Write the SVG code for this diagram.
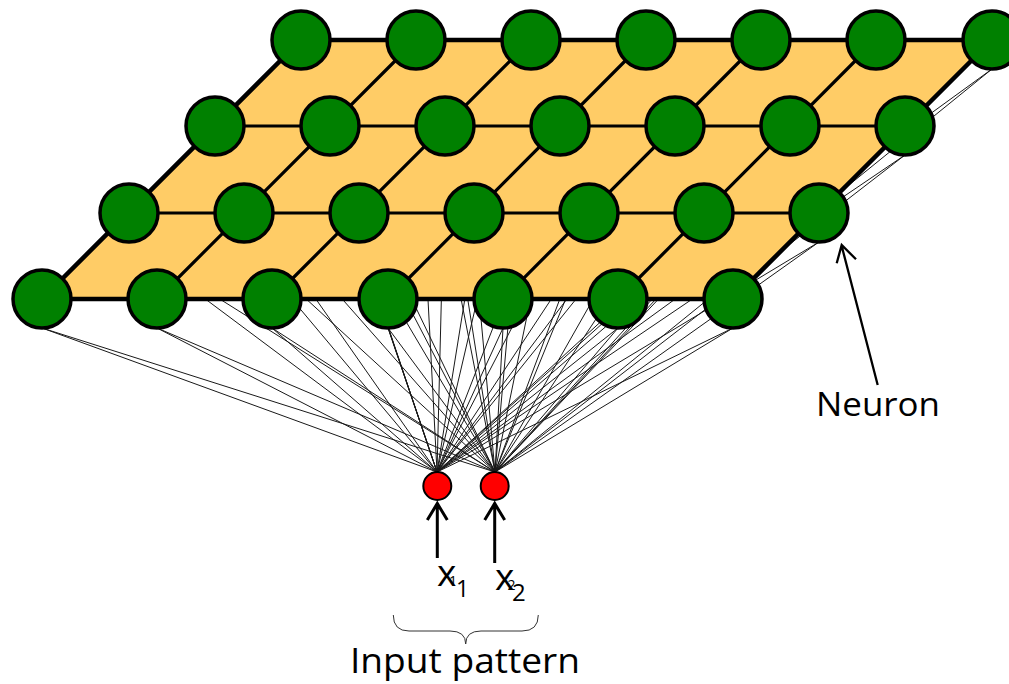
<svg xmlns="http://www.w3.org/2000/svg" width="1009" height="684" viewBox="0 0 1009 684">
<style>
.neuron{fill:#008000;stroke:#000;stroke-width:3.5}
.input{fill:#ff0000;stroke:#000;stroke-width:2}
.grid{stroke:#000;stroke-width:3.2;fill:none}
.arrow{stroke:#000;fill:none;stroke-linecap:butt}
.lbl{font-family:"Open Sans","Noto Sans","DejaVu Sans",sans-serif;fill:#000}
</style>
<rect width="1009" height="684" fill="#fff"/>
<g id="connectors" stroke="#000" stroke-width="1" fill="none" opacity="0.9">
<path d="M42 328L437 472M42 328L495 472M157 328L437 472M157 328L495 472M272 328L437 472M272 328L495 472M388 328L437 472M388 328L495 472M503 328L437 472M503 328L495 472M618 328L437 472M618 328L495 472M733 328L437 472M733 328L495 472"/>
<path d="M129 242L437 472M129 242L495 472M244 242L437 472M244 242L495 472M359 242L437 472M359 242L495 472M474 242L437 472M474 242L495 472M589 242L437 472M589 242L495 472M704 242L437 472M704 242L495 472M819 242L437 472M819 242L495 472"/>
<path d="M215 155L437 472M215 155L495 472M330 155L437 472M330 155L495 472M445 155L437 472M445 155L495 472M560 155L437 472M560 155L495 472M675 155L437 472M675 155L495 472M790 155L437 472M790 155L495 472M905 155L437 472M905 155L495 472"/>
<path d="M301 69L437 472M301 69L495 472M416 69L437 472M416 69L495 472M531 69L437 472M531 69L495 472M646 69L437 472M646 69L495 472M761 69L437 472M761 69L495 472M876 69L437 472M876 69L495 472M992 69L437 472M992 69L495 472"/>
</g>
<g id="map-plane">
<polygon points="42,299 733,299 992,40 301,40" fill="#ffcc66" stroke="#000" stroke-width="4.5" stroke-linejoin="round"/>
<path class="grid" d="M129 213L819 213M215 126L905 126M157 299L416 40M272 299L531 40M388 299L646 40M503 299L761 40M618 299L876 40"/>
</g>
<g id="neurons">
<g id="n-r3c0"><circle class="neuron" cx="42" cy="299" r="29"/></g>
<g id="n-r3c1"><circle class="neuron" cx="157" cy="299" r="29"/></g>
<g id="n-r3c2"><circle class="neuron" cx="272" cy="299" r="29"/></g>
<g id="n-r3c3"><circle class="neuron" cx="388" cy="299" r="29"/></g>
<g id="n-r3c4"><circle class="neuron" cx="503" cy="299" r="29"/></g>
<g id="n-r3c5"><circle class="neuron" cx="618" cy="299" r="29"/></g>
<g id="n-r3c6"><circle class="neuron" cx="733" cy="299" r="29"/></g>
<g id="n-r2c0"><circle class="neuron" cx="129" cy="213" r="29"/></g>
<g id="n-r2c1"><circle class="neuron" cx="244" cy="213" r="29"/></g>
<g id="n-r2c2"><circle class="neuron" cx="359" cy="213" r="29"/></g>
<g id="n-r2c3"><circle class="neuron" cx="474" cy="213" r="29"/></g>
<g id="n-r2c4"><circle class="neuron" cx="589" cy="213" r="29"/></g>
<g id="n-r2c5"><circle class="neuron" cx="704" cy="213" r="29"/></g>
<g id="n-r2c6"><circle class="neuron" cx="819" cy="213" r="29"/></g>
<g id="n-r1c0"><circle class="neuron" cx="215" cy="126" r="29"/></g>
<g id="n-r1c1"><circle class="neuron" cx="330" cy="126" r="29"/></g>
<g id="n-r1c2"><circle class="neuron" cx="445" cy="126" r="29"/></g>
<g id="n-r1c3"><circle class="neuron" cx="560" cy="126" r="29"/></g>
<g id="n-r1c4"><circle class="neuron" cx="675" cy="126" r="29"/></g>
<g id="n-r1c5"><circle class="neuron" cx="790" cy="126" r="29"/></g>
<g id="n-r1c6"><circle class="neuron" cx="905" cy="126" r="29"/></g>
<g id="n-r0c0"><circle class="neuron" cx="301" cy="40" r="29"/></g>
<g id="n-r0c1"><circle class="neuron" cx="416" cy="40" r="29"/></g>
<g id="n-r0c2"><circle class="neuron" cx="531" cy="40" r="29"/></g>
<g id="n-r0c3"><circle class="neuron" cx="646" cy="40" r="29"/></g>
<g id="n-r0c4"><circle class="neuron" cx="761" cy="40" r="29"/></g>
<g id="n-r0c5"><circle class="neuron" cx="876" cy="40" r="29"/></g>
<g id="n-r0c6"><circle class="neuron" cx="992" cy="40" r="29"/></g>
</g>
<g id="input-x1">
<circle class="input" cx="437.3" cy="486" r="14"/>
<path class="arrow" stroke-width="3" d="M437.3 558L437.3 504M427.3 520L437.3 503.5L447.3 520"/>
<text class="lbl" x="437" y="586" font-size="37">x</text>
<text class="lbl" x="449" y="586" font-size="14">1</text>
<text class="lbl" x="456" y="597" font-size="23">1</text>
</g>
<g id="input-x2">
<circle class="input" cx="494.7" cy="486" r="14"/>
<path class="arrow" stroke-width="3" d="M494.7 563L494.7 504M484.7 520L494.7 503.5L504.7 520"/>
<text class="lbl" x="495" y="590" font-size="37">x</text>
<text class="lbl" x="507.5" y="590" font-size="14">2</text>
<text class="lbl" x="512" y="601" font-size="24">2</text>
</g>
<g id="neuron-label">
<path class="arrow" stroke-width="2.3" d="M877.7 385L841.7 246M836.7 263.3L841.7 245L856 259.3"/>
<text class="lbl" x="816" y="416" font-size="33" textLength="124" lengthAdjust="spacingAndGlyphs">Neuron</text>
</g>
<g id="input-pattern">
<path d="M393.3 615Q393.3 631 409 631L450 631Q465.7 631 465.7 644Q465.7 631 481 631L522 631Q538.3 631 538.3 615" fill="none" stroke="#333" stroke-width="1"/>
<text class="lbl" x="350" y="673" font-size="35" textLength="230" lengthAdjust="spacingAndGlyphs">Input pattern</text>
</g>
</svg>
